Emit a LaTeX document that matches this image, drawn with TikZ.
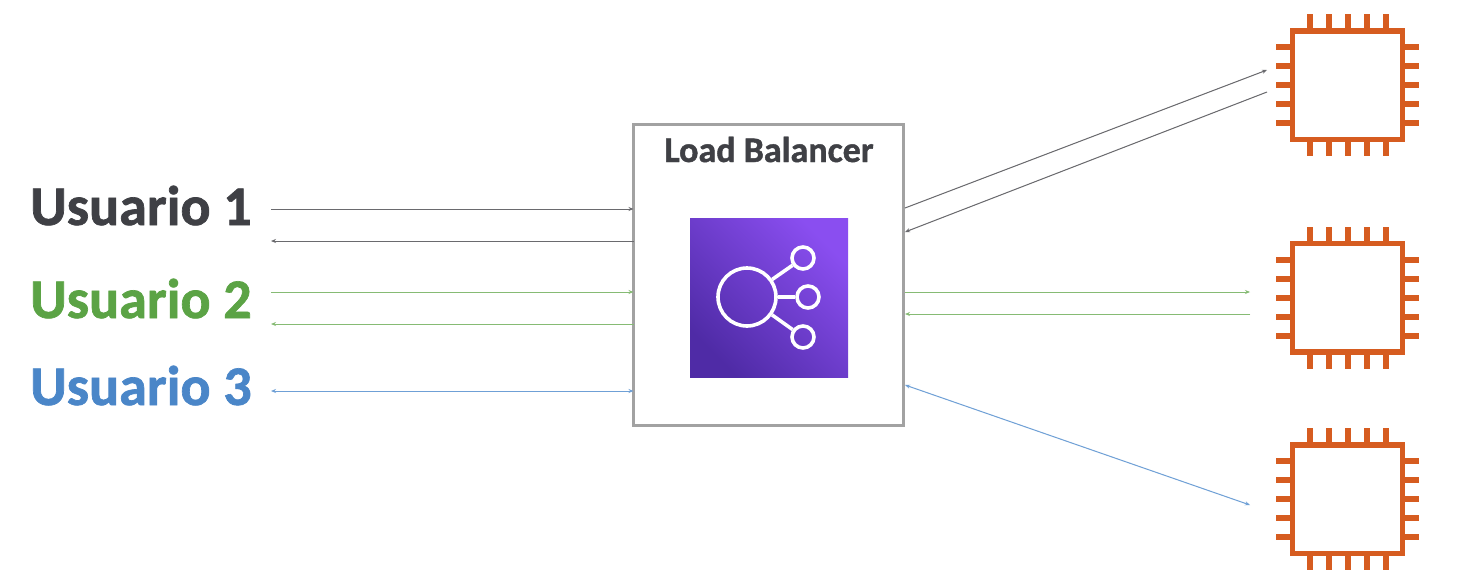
\documentclass[tikz,border=0pt]{standalone}
\usepackage{fontspec}
\setmainfont{Carlito}[BoldFeatures={FakeBold=1.2}]
\usetikzlibrary{arrows.meta}
\definecolor{dk}{HTML}{3F4045}
\definecolor{gn}{HTML}{5BA345}
\definecolor{bl}{HTML}{4A86C8}
\definecolor{cg}{HTML}{D65C20}
\definecolor{frame}{HTML}{A2A2A2}
\definecolor{iconlo}{HTML}{4F2BA6}
\definecolor{iconhi}{HTML}{8A4EF0}
\definecolor{linek}{HTML}{6A6A6E}
\definecolor{lineg}{HTML}{86BB74}
\definecolor{lineb}{HTML}{6FA0D6}
\tikzset{
  user/.style={anchor=base west,inner sep=0pt,font=\fontsize{56}{56}\selectfont\bfseries},
  title/.style={anchor=base,inner sep=0pt,text=dk,font=\fontsize{36}{36}\selectfont\bfseries},
  lbbox/.style={draw=frame,line width=3pt,fill=white,minimum width=270pt,minimum height=301pt,inner sep=0pt,outer sep=0pt},
  iconbox/.style={minimum width=158pt,minimum height=159pt,inner sep=0pt,shading=axis,left color=iconhi,right color=iconlo,shading angle=-45},
  hubc/.style={circle,draw=white,line width=3.6pt,minimum size=58pt,inner sep=0pt},
  leaf/.style={circle,draw=white,line width=3.6pt,minimum size=22pt,inner sep=0pt},
  spoke/.style={draw=white,line width=3.6pt},
  chip/.style={draw=cg,line width=5.5pt,fill=white,minimum width=110pt,minimum height=108.5pt,inner sep=0pt},
  pin/.style={draw=cg,line width=6pt},
  conn/.style={line width=1pt,-{Stealth[length=5pt,width=4pt]}},
  connb/.style={line width=1pt,{Stealth[length=5pt,width=4pt]}-{Stealth[length=5pt,width=4pt]}},
  lk/.style={draw=linek,fill=linek},
  lg/.style={draw=lineg,fill=lineg},
  lb/.style={draw=lineb,fill=lineb}
}
\newcommand{\chippins}[1]{%
  \foreach \d in {-38,-19,0,19,38}{
    \draw[pin] ([xshift=\d pt]#1.north) -- ++(0,-14);
    \draw[pin] ([xshift=\d pt]#1.south) -- ++(0,14);
    \draw[pin] ([yshift=\d pt]#1.west) -- ++(-14,0);
    \draw[pin] ([yshift=\d pt]#1.east) -- ++(14,0);
  }}
\begin{document}
\begin{tikzpicture}[x=1pt,y=-1pt]
\useasboundingbox (0,0) rectangle (1462,581);
\fill[white] (0,0) rectangle (1462,581);

% users
\node[user,text=dk] (u1) at (30,225) {Usuario 1};
\node[user,text=gn] (u2) at (30,318) {Usuario 2};
\node[user,text=bl] (u3) at (30,405) {Usuario 3};

% load balancer
\node[lbbox] (lbx) at (768.5,275) {};
\node[title] (lbt) at (769,162) {Load Balancer};
\node[iconbox] (icon) at (769,297.5) {};
\node[hubc] (hub) at (747,297) {};
\node[leaf] (s1) at (803,258) {};
\node[leaf] (s2) at (808,297) {};
\node[leaf] (s3) at (803,337) {};
\draw[spoke] (hub) -- (s1);
\draw[spoke] (hub) -- (s2);
\draw[spoke] (hub) -- (s3);

% chips
\node[chip] (c1) at (1347.5,85) {};
\node[chip] (c2) at (1347.5,297.7) {};
\node[chip] (c3) at (1347.5,499.3) {};
\chippins{c1}\chippins{c2}\chippins{c3}

% free ends
\coordinate (a1) at (271,209);
\coordinate (a2) at (271,241);
\coordinate (a3) at (271,292);
\coordinate (a4) at (271,324);
\coordinate (a5) at (271,391);
\coordinate (b1) at (1267,70);
\coordinate (b2) at (1267,92);
\coordinate (b3) at (1250,292);
\coordinate (b4) at (1250,314);
\coordinate (b5) at (1250,505);
\coordinate (e1) at (905,208);
\coordinate (e2) at (905,232);
\coordinate (e3) at (905,292);
\coordinate (e4) at (905,314);
\coordinate (e5) at (905,385);

% left connectors
\draw[conn,lk] (a1) -- (a1 -| lbx.west);
\draw[conn,lk] (a2 -| lbx.west) -- (a2);
\draw[conn,lg] (a3) -- (a3 -| lbx.west);
\draw[conn,lg] (a4 -| lbx.west) -- (a4);
\draw[connb,lb] (a5) -- (a5 -| lbx.west);

% right connectors
\draw[conn,lk] (e1) -- (b1);
\draw[conn,lk] (b2) -- (e2);
\draw[conn,lg] (e3) -- (b3);
\draw[conn,lg] (b4) -- (e4);
\draw[connb,lb] (e5) -- (b5);
\end{tikzpicture}
\end{document}
